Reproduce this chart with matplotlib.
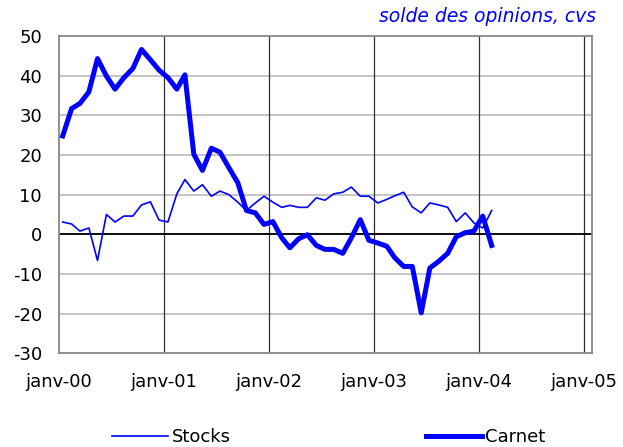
import numpy as np
import matplotlib
matplotlib.use('Agg')
import matplotlib.pyplot as plt
import matplotlib.dates as mdates

# monthly series, janv-2000 .. fev-2004
stocks = [3.1, 2.6, 0.8, 1.6, -6.6, 5.0, 3.1, 4.6, 4.6, 7.4, 8.2, 3.6,
          3.1, 10.2, 13.8, 10.9, 12.5, 9.6, 10.9, 10.0, 8.1, 6.0, 7.9, 9.6,
          8.1, 6.8, 7.3, 6.8, 6.8, 9.2, 8.6, 10.2, 10.6, 11.9, 9.6, 9.6,
          7.9, 8.8, 9.7, 10.6, 6.9, 5.4, 7.9, 7.4, 6.8, 3.2, 5.4, 2.9,
          1.6, 6.0]
carnet = [24.8, 31.7, 33.0, 35.9, 44.3, 39.9, 36.6, 39.5, 41.8, 46.6, 44.0, 41.4,
          39.5, 36.6, 40.2, 20.2, 16.1, 21.7, 20.7, 16.8, 13.0, 6.0, 5.4, 2.5,
          3.2, -0.9, -3.4, -1.1, -0.1, -2.8, -3.8, -3.8, -4.8, -0.9, 3.7, -1.5,
          -2.2, -3.0, -5.9, -8.1, -8.1, -19.8, -8.5, -6.8, -4.8, -0.6, 0.4, 0.8,
          4.6, -2.8]
dates = [np.datetime64(f'{2000 + i // 12}-{i % 12 + 1:02d}-15') for i in range(len(stocks))]

years = [np.datetime64(f'{y}-01-01') for y in range(2000, 2006)]
year_labels = ['janv-00', 'janv-01', 'janv-02', 'janv-03', 'janv-04', 'janv-05']
y_ticks = list(range(-30, 51, 10))

plt.rcParams['font.family'] = ['DejaVu Sans']
plt.rcParams['axes.unicode_minus'] = False

fig = plt.figure(figsize=(6.23, 4.47), dpi=100)
ax = fig.add_axes([0.0942, 0.2096, 0.9498 - 0.0942, 0.9195 - 0.2096])

for y in y_ticks[1:-1]:
    ax.axhline(y, color='#c0c0c0', lw=1.3, zorder=1)
for d in years[1:]:
    ax.axvline(d, color='#303030', lw=0.9, zorder=1)
ax.axhline(0, color='black', lw=1.3, zorder=2)

ax.plot(dates, stocks, color='#0000ff', lw=1.2, label='Stocks', zorder=3)
ax.plot(dates, carnet, color='#0000ff', lw=3.6, label='Carnet', zorder=4,
        solid_joinstyle='round')

ax.set_ylim(-30, 50)
ax.set_xlim(np.datetime64('2000-01-01'), np.datetime64('2005-01-28'))
ax.set_yticks(y_ticks)
ax.set_xticks(years)
ax.set_xticklabels(year_labels)
ax.tick_params(axis='y', length=0, pad=12, labelsize=13)
ax.tick_params(axis='x', length=0, pad=14, labelsize=13)
for s in ax.spines.values():
    s.set_color('#888888')
    s.set_linewidth(1.3)

fig.text(0.957, 0.962, 'solde des opinions, cvs', color='#0000ff',
         style='italic', fontsize=13.5, ha='right', va='center')

fig.legend(loc='center', bbox_to_anchor=(0.528, 0.022), ncol=2, frameon=False,
           fontsize=13, handlelength=3.1, handletextpad=0.2, columnspacing=10.8,
           borderpad=0, borderaxespad=0)

fig.savefig('out.png', dpi=100)
